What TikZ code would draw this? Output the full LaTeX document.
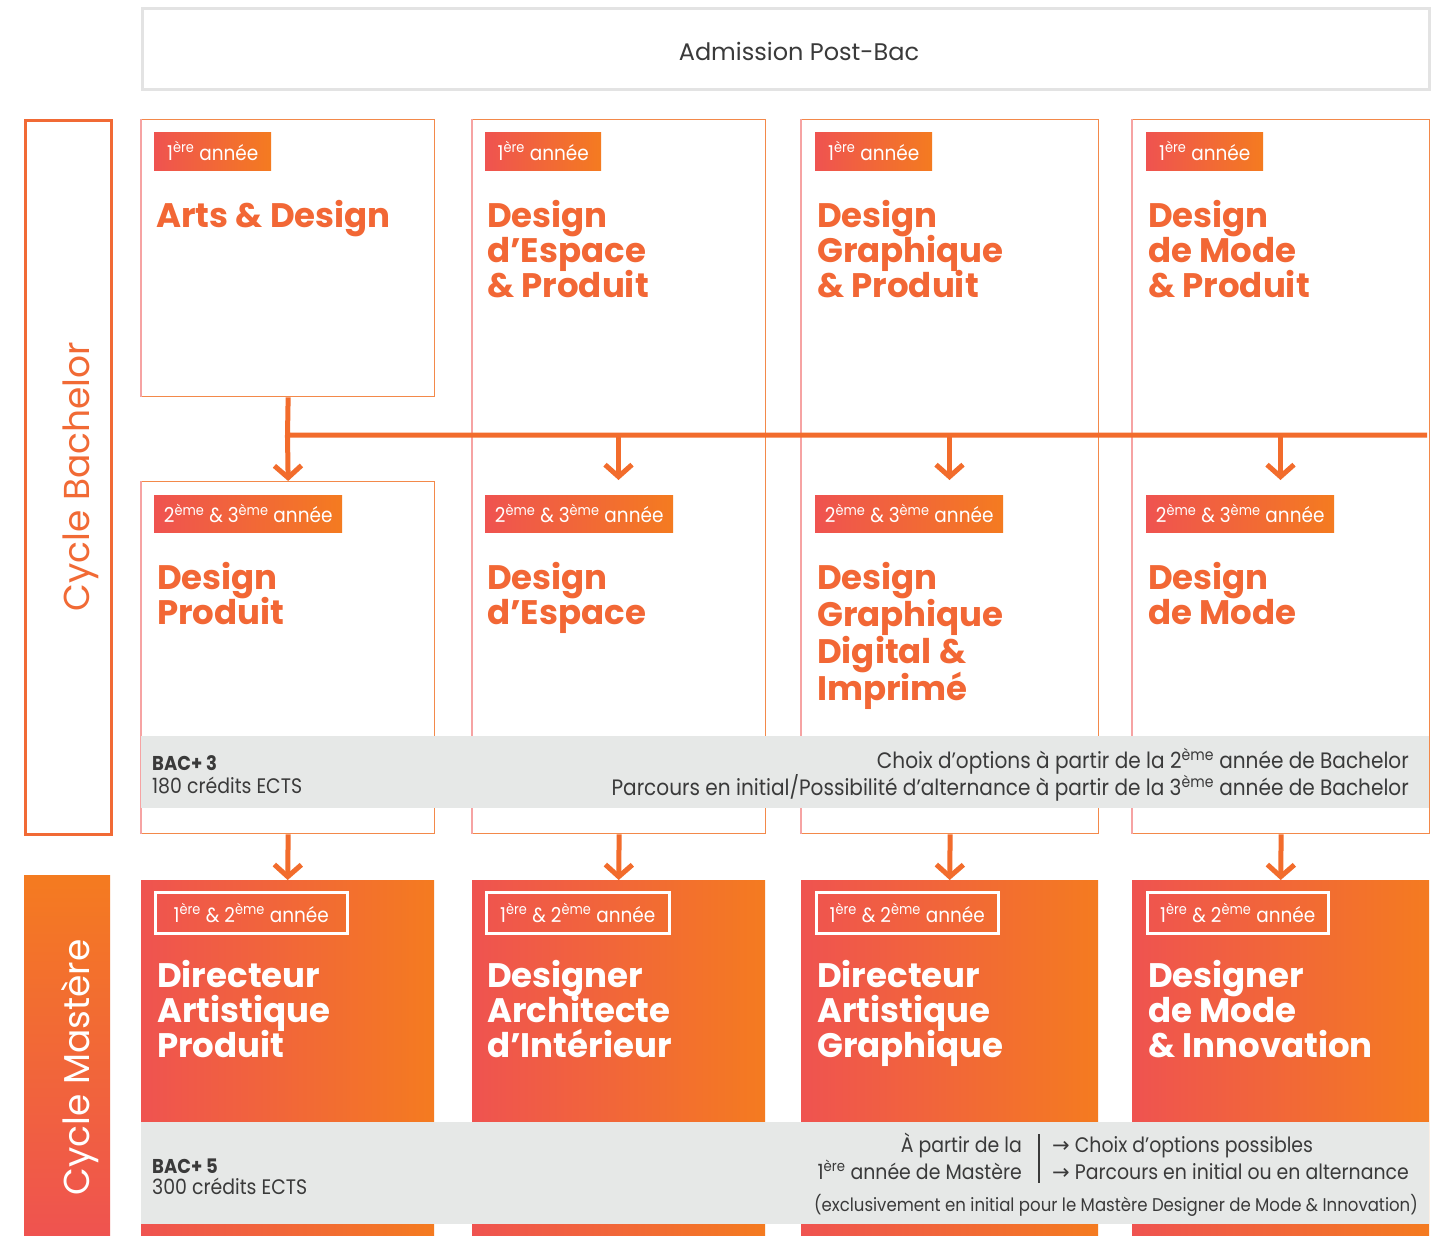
\documentclass[tikz,border=0pt]{standalone}
\usepackage{fontspec}
\setmainfont{Poppins}
\newfontfamily\narrowfont[FakeStretch=0.9]{Poppins}
\newfontfamily\symfont{DejaVu Sans}
\usetikzlibrary{arrows.meta}
\definecolor{orA}{HTML}{F47B20}
\definecolor{rdA}{HTML}{EF5350}
\definecolor{titleC}{HTML}{F26735}
\definecolor{bandC}{HTML}{E6E8E7}
\definecolor{txtC}{HTML}{3A3A3A}
\definecolor{edgeC}{HTML}{F3894A}
\definecolor{edgeL}{HTML}{F6A3A3}
\definecolor{connC}{HTML}{F26C2C}
\definecolor{sideC}{HTML}{F16A35}
\definecolor{topC}{HTML}{E3E3E3}
\setlength{\lineskiplimit}{-30pt}
\begin{document}
\begin{tikzpicture}[x=1pt,y=-1pt,
  bbox/.style={draw=edgeC, line width=1.3pt, fill=white, inner sep=0pt, anchor=north west},
  mbox/.style={left color=rdA, right color=orA, draw=none, inner sep=0pt, anchor=north west},
  lab/.style={left color=rdA, right color=orA, draw=none, text=white, inner sep=0pt, anchor=north west,
     minimum height=38pt, font=\narrowfont\fontsize{20.5}{24}\selectfont},
  mlab/.style={draw=white, line width=2.5pt, text=white, inner sep=0pt, anchor=north west,
     minimum height=41pt, font=\narrowfont\fontsize{20.5}{24}\selectfont},
  ttl/.style={text=titleC, inner sep=0pt, anchor=north west, align=left,
     font=\fontsize{34}{35}\selectfont\bfseries},
  mttl/.style={ttl, text=white},
  band/.style={fill=bandC, draw=none, inner sep=0pt, anchor=north west},
  gtxt/.style={text=txtC, inner sep=0pt, font=\narrowfont\fontsize{21}{24}\selectfont},
  gtxtb/.style={text=txtC, inner sep=0pt, font=\narrowfont\fontsize{22.3}{24}\selectfont},
  btxt/.style={text=txtC, inner sep=0pt, anchor=base west, font=\narrowfont\fontsize{21}{22}\selectfont},
  conn/.style={draw=connC, line width=5pt},
  arr/.style={draw=connC, line width=5pt, -{Straight Barb[length=12pt,width=27pt]}},
  edge/.style={draw=edgeL, line width=1.3pt}
]
\useasboundingbox (0,0) rectangle (1449,1236);
\fill[white] (0,0) rectangle (1449,1236);

% top box
\node[draw=topC, line width=3pt, fill=white, anchor=north west, minimum width=1287pt, minimum height=81pt, inner sep=0pt] (top) at (141,7) {};
\node[text=txtC, font=\fontsize{24}{28}\selectfont] (adm) at (799,51) {Admission Post-Bac};

% side bars
\node[draw=sideC, line width=3pt, fill=white, anchor=north west, minimum width=86pt, minimum height=714pt, inner sep=0pt] (sb) at (24,119) {};
\node[rotate=90, anchor=base, text=sideC, font=\fontsize{36}{40}\selectfont, inner sep=0pt] (sbt) at (89,476.5) {Cycle Bachelor};
\node[top color=orA, bottom color=rdA, draw=none, anchor=north west, minimum width=86pt, minimum height=361pt, inner sep=0pt] (sm) at (24,875) {};
\node[rotate=90, anchor=base, text=white, font=\fontsize{36}{40}\selectfont, inner sep=0pt] (smt) at (89,1067.5) {Cycle Mastère};

% bachelor boxes
\node[bbox, minimum width=293pt, minimum height=277pt] (a1) at (141,119) {};
\node[bbox, minimum width=293pt, minimum height=352pt] (b1) at (141,481) {};
\node[bbox, minimum width=293pt, minimum height=714pt] (a2) at (472,119) {};
\node[bbox, minimum width=297pt, minimum height=714pt] (a3) at (801,119) {};
\node[bbox, minimum width=297pt, minimum height=714pt] (a4) at (1132,119) {};
\foreach \n in {a1,b1,a2,a3,a4}{\draw[edge] (\n.north west) -- (\n.south west);}

% connectors
\coordinate (j1) at (287.5,435);
\coordinate (j2) at (618.5,435);
\coordinate (j3) at (949.5,435);
\coordinate (j4) at (1280.5,435);
\coordinate (jE) at (1427,435);
\coordinate (t2) at (618.5,480);
\coordinate (t3) at (949.5,480);
\coordinate (t4) at (1280.5,480);
\draw[conn] (a1.south) -- (j1) -- (jE);
\draw[arr] (j1) -- (b1.north);
\draw[arr] (j2) -- (t2);
\draw[arr] (j3) -- (t3);
\draw[arr] (j4) -- (t4);

% year labels
\node[lab, minimum width=117pt] (l11) at (154,132) {1\textsuperscript{ère} année};
\node[lab, minimum width=116pt] (l12) at (485,132) {1\textsuperscript{ère} année};
\node[lab, minimum width=117pt] (l13) at (815,132) {1\textsuperscript{ère} année};
\node[lab, minimum width=117pt] (l14) at (1146,132) {1\textsuperscript{ère} année};
\node[lab, minimum width=188pt, minimum height=37pt] (l21) at (154,495) {2\textsuperscript{ème} \& 3\textsuperscript{ème} année};
\node[lab, minimum width=188pt, minimum height=37pt] (l22) at (485,495) {2\textsuperscript{ème} \& 3\textsuperscript{ème} année};
\node[lab, minimum width=188pt, minimum height=37pt] (l23) at (815,495) {2\textsuperscript{ème} \& 3\textsuperscript{ème} année};
\node[lab, minimum width=188pt, minimum height=37pt] (l24) at (1146,495) {2\textsuperscript{ème} \& 3\textsuperscript{ème} année};

% titles bachelor
\node[ttl] (t11) at (156,200) {Arts \& Design};
\node[ttl] (t12) at (487,200) {Design\\d’Espace\\\& Produit};
\node[ttl] (t13) at (817,200) {Design\\Graphique\\\& Produit};
\node[ttl] (t14) at (1148,200) {Design\\de Mode\\\& Produit};
\node[ttl] (t21) at (157,562) {Design\\Produit};
\node[ttl] (t22) at (487,562) {Design\\d’Espace};
\node[ttl, font=\fontsize{34}{37}\selectfont\bfseries] (t23) at (817,562) {Design\\Graphique\\Digital \&\\Imprimé};
\node[ttl] (t24) at (1148,562) {Design\\de Mode};

% band bachelor
\node[band, minimum width=1288pt, minimum height=72pt] (bandB) at (141,736) {};
\node[btxt, font=\narrowfont\fontsize{20}{22}\selectfont\bfseries] (bac3) at (152,770) {BAC+ 3};
\node[btxt] (ects3) at (152,793) {180 crédits ECTS};
\node[gtxtb, anchor=base east] (ch1) at (1409,768) {Choix d’options à partir de la 2\textsuperscript{ème} année de Bachelor};
\node[gtxtb, anchor=base east] (ch2) at (1409,795) {Parcours en initial/Possibilité d’alternance à partir de la 3\textsuperscript{ème} année de Bachelor};

% master boxes
\node[mbox, minimum width=293pt, minimum height=356pt] (m1) at (141,880) {};
\node[mbox, minimum width=293pt, minimum height=356pt] (m2) at (472,880) {};
\node[mbox, minimum width=297pt, minimum height=356pt] (m3) at (801,880) {};
\node[mbox, minimum width=297pt, minimum height=356pt] (m4) at (1132,880) {};
\draw[arr] (b1.south) -- (m1.north);
\draw[arr] (a2.south) -- (m2.north);
\draw[arr] (a3.south) -- (m3.north);
\draw[arr] (a4.south) -- (m4.north);

\node[mlab, minimum width=192pt] (ml1) at (154,891) {1\textsuperscript{ère} \& 2\textsuperscript{ème} année};
\node[mlab, minimum width=183pt] (ml2) at (485,891) {1\textsuperscript{ère} \& 2\textsuperscript{ème} année};
\node[mlab, minimum width=182pt] (ml3) at (815,891) {1\textsuperscript{ère} \& 2\textsuperscript{ème} année};
\node[mlab, minimum width=181pt] (ml4) at (1146,891) {1\textsuperscript{ère} \& 2\textsuperscript{ème} année};

\node[mttl] (mt1) at (157,960) {Directeur\\Artistique\\Produit};
\node[mttl] (mt2) at (487,960) {Designer\\Architecte\\d’Intérieur};
\node[mttl] (mt3) at (817,960) {Directeur\\Artistique\\Graphique};
\node[mttl] (mt4) at (1148,960) {Designer\\de Mode\\\& Innovation};

% band master
\node[band, minimum width=1288pt, minimum height=102pt] (bandM) at (141,1122) {};
\node[btxt, font=\narrowfont\fontsize{20}{22}\selectfont\bfseries] (bac5) at (152,1173) {BAC+ 5};
\node[btxt] (ects5) at (152,1194) {300 crédits ECTS};
\node[gtxt, anchor=base east] (ap1) at (1022,1152) {À partir de la};
\node[gtxt, anchor=base east] (ap2) at (1022,1179) {1\textsuperscript{ère} année de Mastère};
\coordinate (barT) at (1039,1134);
\coordinate (barB) at (1039,1183);
\draw[txtC, line width=2pt] (barT) -- (barB);
\node[gtxt, anchor=base west] (op1) at (1052,1152) {{\symfont →} Choix d’options possibles};
\node[gtxt, anchor=base west] (op2) at (1052,1179) {{\symfont →} Parcours en initial ou en alternance};
\node[gtxt, anchor=base east, font=\narrowfont\fontsize{18.4}{22}\selectfont] (excl) at (1418,1211) {(exclusivement en initial pour le Mastère Designer de Mode \& Innovation)};
\end{tikzpicture}
\end{document}
